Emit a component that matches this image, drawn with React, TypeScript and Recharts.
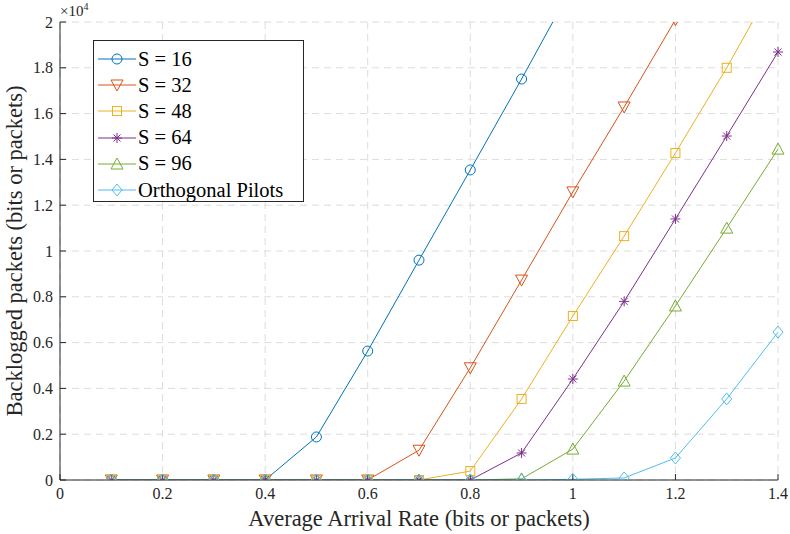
import React from 'react';
import { LineChart, Line, XAxis, YAxis, CartesianGrid } from 'recharts';

// arrival rates (x axis)
const rates = [0.1, 0.2, 0.3, 0.4, 0.5, 0.6, 0.7, 0.8, 0.9, 1.0, 1.1, 1.2, 1.3, 1.4];

// backlogged packets for each pilot length
const s16 = [0, 0, 0, 0, 1880, 5630, 9600, 13540, 17510, 21600, 25500, 29500, 33500, 37500];
const s32 = [0, 0, 0, 0, 0, 0, 1300, 4900, 8730, 12580, 16290, 20100, 24000, 28000];
const s48 = [0, 0, 0, 0, 0, 0, 0, 390, 3540, 7160, 10650, 14280, 18000, 22000];
const s64 = [0, 0, 0, 0, 0, 0, 0, 0, 1180, 4410, 7800, 11400, 15020, 18690];
const s96 = [0, 0, 0, 0, 0, 0, 0, 0, 50, 1350, 4320, 7600, 11000, 14450];
const orth = [0, 0, 0, 0, 0, 0, 0, 0, 0, 30, 90, 960, 3540, 6460];

const xTicks = [0, 0.2, 0.4, 0.6, 0.8, 1.0, 1.2, 1.4];
const yTicks = [0, 2000, 4000, 6000, 8000, 10000, 12000, 14000, 16000, 18000, 20000];

const data = rates.map((r, i) => ({
  rate: r,
  s16: s16[i],
  s32: s32[i],
  s48: s48[i],
  s64: s64[i],
  s96: s96[i],
  orth: orth[i],
}));

type Shape = 'circle' | 'tdown' | 'square' | 'star' | 'tup' | 'diamond';

const series: { key: string; name: string; color: string; shape: Shape }[] = [
  { key: 's16', name: 'S = 16', color: '#0072BD', shape: 'circle' },
  { key: 's32', name: 'S = 32', color: '#D95319', shape: 'tdown' },
  { key: 's48', name: 'S = 48', color: '#EDB120', shape: 'square' },
  { key: 's64', name: 'S = 64', color: '#7E2F8E', shape: 'star' },
  { key: 's96', name: 'S = 96', color: '#77AC30', shape: 'tup' },
  { key: 'orth', name: 'Orthogonal Pilots', color: '#4DBEEE', shape: 'diamond' },
];

const font = '"Liberation Serif", "Times New Roman", serif';

function Marker({ cx, cy, shape, color }: { cx: number; cy: number; shape: Shape; color: string }) {
  const p = { fill: 'none', stroke: color, strokeWidth: 1 };
  switch (shape) {
    case 'circle':
      return <circle cx={cx} cy={cy} r={5} {...p} />;
    case 'tdown':
      return <polygon points={`${cx - 6},${cy - 5} ${cx + 6},${cy - 5} ${cx},${cy + 6}`} {...p} />;
    case 'tup':
      return <polygon points={`${cx - 6},${cy + 5} ${cx + 6},${cy + 5} ${cx},${cy - 6}`} {...p} />;
    case 'square':
      return <rect x={cx - 4.5} y={cy - 4.5} width={9} height={9} {...p} />;
    case 'diamond':
      return <polygon points={`${cx},${cy - 6} ${cx + 5},${cy} ${cx},${cy + 6} ${cx - 5},${cy}`} {...p} />;
    case 'star':
      return (
        <g {...p}>
          <line x1={cx - 5} y1={cy} x2={cx + 5} y2={cy} />
          <line x1={cx} y1={cy - 5} x2={cx} y2={cy + 5} />
          <line x1={cx - 3.5} y1={cy - 3.5} x2={cx + 3.5} y2={cy + 3.5} />
          <line x1={cx - 3.5} y1={cy + 3.5} x2={cx + 3.5} y2={cy - 3.5} />
        </g>
      );
  }
  return null;
}

function LegendBox() {
  return (
    <div
      style={{
        position: 'absolute',
        left: 93,
        top: 40,
        width: 211,
        height: 162,
        border: '1px solid #262626',
        background: '#fff',
        boxSizing: 'border-box',
        fontFamily: font,
        fontSize: 20.5,
      }}
    >
      {series.map((s, i) => (
        <div key={s.key} style={{ position: 'absolute', left: 0, top: 5 + i * 26.2, height: 26, display: 'flex', alignItems: 'center' }}>
          <svg width={44} height={26}>
            <line x1={4} y1={13} x2={42} y2={13} stroke={s.color} strokeWidth={1} />
            <Marker cx={23} cy={13} shape={s.shape} color={s.color} />
          </svg>
          <span style={{ color: '#000', whiteSpace: 'nowrap' }}>{s.name}</span>
        </div>
      ))}
    </div>
  );
}

export default function App() {
  return (
    <div style={{ position: 'absolute', left: 0, top: 0, width: 790, height: 534, background: '#fff' }}>
      <LineChart width={790} height={534} data={data} margin={{ top: 22, right: 12, bottom: 0, left: 0 }}>
        <CartesianGrid
          stroke="#dcdcdc"
          strokeDasharray="7 5"
          horizontalValues={yTicks}
          verticalValues={xTicks}
        />
        <XAxis
          dataKey="rate"
          type="number"
          domain={[0, 1.4]}
          ticks={xTicks}
          tickFormatter={(v: number) => String(+v.toFixed(1))}
          height={54}
          stroke="#262626"
          tickSize={-6}
          tickMargin={14}
          tick={{ fill: '#262626', fontSize: 16, fontFamily: font }}
          label={{ value: 'Average Arrival Rate (bits or packets)', position: 'insideBottom', offset: 8, fill: '#262626', fontSize: 22.5, fontFamily: font }}
        />
        <XAxis xAxisId="top" orientation="top" dataKey="rate" type="number" domain={[0, 1.4]} ticks={xTicks} height={0} stroke="#262626" tick={false} tickSize={-6} />
        <YAxis
          type="number"
          domain={[0, 20000]}
          ticks={yTicks}
          allowDataOverflow
          width={60}
          stroke="#262626"
          tickSize={-6}
          tickMargin={13}
          tickFormatter={(v: number) => String(+(v / 10000).toFixed(1))}
          tick={{ fill: '#262626', fontSize: 16, fontFamily: font }}
          label={{ value: 'Backlogged packets (bits or packets)', angle: -90, position: 'insideLeft', offset: 14, style: { textAnchor: 'middle' }, fill: '#262626', fontSize: 22.5, fontFamily: font }}
        />
        <YAxis yAxisId="right" orientation="right" type="number" domain={[0, 20000]} ticks={yTicks} width={0} stroke="#262626" tick={false} tickSize={-6} />
        {series.map((s) => (
          <Line
            key={s.key}
            dataKey={s.key}
            stroke={s.color}
            strokeWidth={1}
            isAnimationActive={false}
            dot={(props: any) => (
              <Marker key={`${s.key}-${props.index}`} cx={props.cx} cy={props.cy} shape={s.shape} color={s.color} />
            )}
            activeDot={false}
          />
        ))}
      </LineChart>
      <div style={{ position: 'absolute', left: 60, top: 1, fontFamily: font, fontSize: 15, color: '#262626' }}>
        ×10<sup style={{ fontSize: 10 }}>4</sup>
      </div>
      <LegendBox />
    </div>
  );
}
